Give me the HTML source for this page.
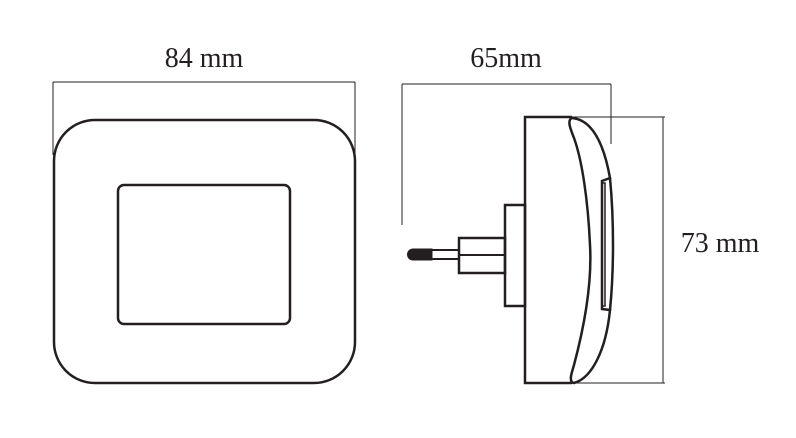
<!DOCTYPE html>
<html><head><style>body{margin:0;background:#fff}svg{display:block}</style></head>
<body>
<svg width="796" height="438" viewBox="0 0 796 438" xmlns="http://www.w3.org/2000/svg">
<g fill="none" stroke="#231f20">
<line x1="53" y1="82" x2="355" y2="82" stroke-width="1"/>
<line x1="53" y1="82" x2="53" y2="155" stroke-width="1"/>
<line x1="355" y1="82" x2="355" y2="155" stroke-width="1"/>
<rect x="54" y="120" width="301" height="263" rx="41" ry="41" stroke-width="2.5"/>
<rect x="118" y="185" width="172" height="139" rx="6" stroke-width="2.5"/>
<line x1="402" y1="84" x2="611" y2="84" stroke-width="1"/>
<line x1="402" y1="84" x2="402" y2="225" stroke-width="1"/>
<line x1="611" y1="84" x2="611" y2="144" stroke-width="1"/>
<line x1="572" y1="117" x2="665" y2="117" stroke-width="1"/>
<line x1="572" y1="383" x2="665" y2="383" stroke-width="1"/>
<line x1="663" y1="117" x2="663" y2="383" stroke-width="1"/>
<path d="M572 117 H525 V383 H572" stroke-width="2.5"/>
<rect x="505" y="205" width="20" height="101" stroke-width="2.5"/>
<rect x="459" y="238" width="46" height="35" stroke-width="2.5"/>
<line x1="459" y1="255" x2="505" y2="255" stroke-width="2"/>
<rect x="430" y="250" width="29" height="9" stroke-width="2"/>
<path d="M432 249 H413 a5 5 0 0 0 0 11 H432 Z" fill="#231f20" stroke-width="1"/>
<path d="M572 118 C595 120 605 150 610 178 L602 181 L602 309 L610 310 C606 350 592 378 574 383 C568 382 572 372 574 365 C586 320 592 280 590 245 C588 200 582 160 574 138 C570 128 567 120 572 118 Z" stroke-width="2.5"/>
<path d="M610 178 C614 220 614 270 610 310" stroke-width="2.5"/>
<path d="M602 183 L605 183 L605 306 L602 306" stroke-width="1.5"/>
</g>
<g font-family="Liberation Serif, serif" font-size="28" fill="#231f20" text-anchor="middle">
<text x="204" y="67">84 mm</text>
<text x="506" y="67">65mm</text>
<text x="720" y="252">73 mm</text>
</g>
</svg>
</body></html>
